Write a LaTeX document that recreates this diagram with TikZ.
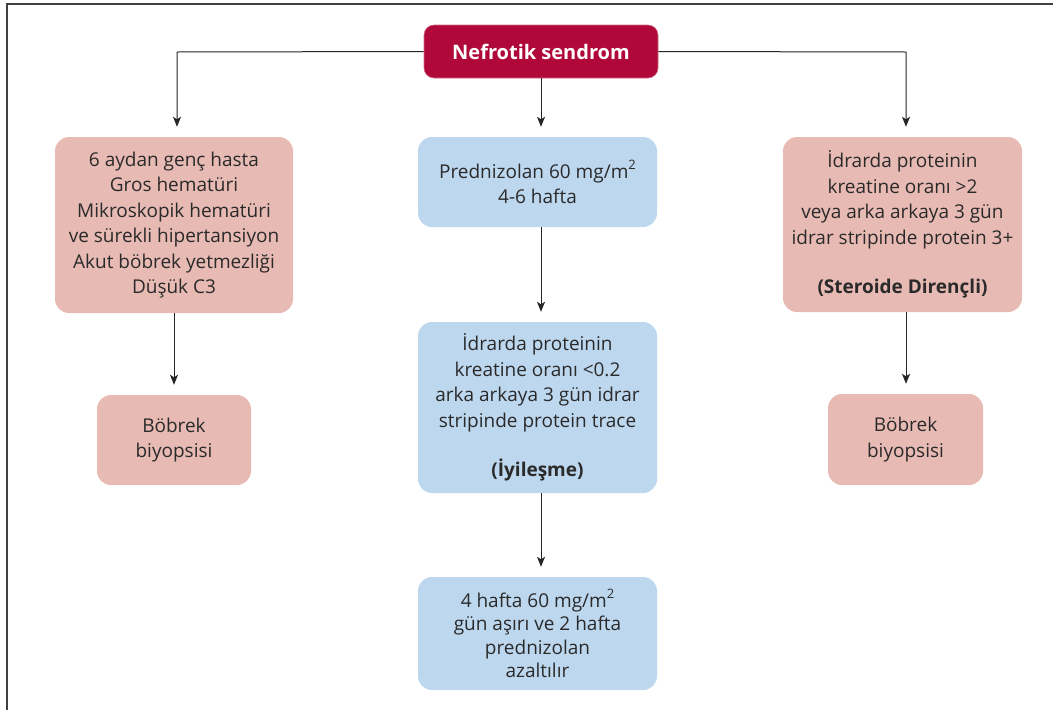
\documentclass[tikz,border=0pt]{standalone}
\usepackage{fontspec}
\setmainfont{Open Sans}
\usetikzlibrary{arrows.meta}
\definecolor{topred}{HTML}{B1083A}
\definecolor{pinkfill}{HTML}{E8BAB4}
\definecolor{bluefill}{HTML}{BDD7EF}
\definecolor{txt}{HTML}{2A2A2A}
\newcommand{\supsq}{\raisebox{0.45em}{\fontsize{13}{13}\selectfont 2}}
\tikzset{
  box/.style={rounded corners=14pt, align=center, inner sep=0pt, text=txt,
    font=\fontsize{19}{25.5}\selectfont},
  pinkbox/.style={box, fill=pinkfill},
  bluebox/.style={box, fill=bluefill},
  conn/.style={line width=1pt, draw=black!85, -{Stealth[length=10pt,width=8pt,inset=2.5pt]}, shorten >=10pt},
  frame/.style={line width=1.4pt, draw=black!75}
}
\begin{document}
\begin{tikzpicture}[x=1pt,y=-1pt]
\useasboundingbox (0,0) rectangle (1053,710);
\draw[frame] (7,710) -- (7,4) -- (1053,4);

\node[rounded corners=10pt, fill=topred, draw=topred!60!white, line width=0.6pt,
  minimum width=234pt, minimum height=53pt, text=white,
  font=\fontsize{20}{24}\selectfont\bfseries] (top) at (541,51.5) {Nefrotik sendrom};

\node[pinkbox, minimum width=238pt, minimum height=176pt] (L1) at (174,225)
  {6 aydan genç hasta\\Gros hematüri\\Mikroskopik hematüri\\ve sürekli hipertansiyon\\Akut böbrek yetmezliği\\Düşük C3};
\node[pinkbox, minimum width=154pt, minimum height=90pt] (L2) at (174,440)
  {Böbrek\\biyopsisi};

\node[bluebox, minimum width=239pt, minimum height=90pt] (C1) at (537.5,182)
  {Prednizolan 60 mg/m\supsq\\4-6 hafta};
\node[bluebox, minimum width=239pt, minimum height=171pt] (C2) at (537.5,407.5)
  {İdrarda proteinin\\kreatine oranı <0.2\\arka arkaya 3 gün idrar\\stripinde protein trace\\[24pt]{\bfseries (İyileşme)}};
\node[bluebox, minimum width=239pt, minimum height=113pt, font=\fontsize{19}{23.5}\selectfont] (C3) at (537.5,633.5)
  {4 hafta 60 mg/m\supsq\\gün aşırı ve 2 hafta\\prednizolan\\azaltılır};

\node[pinkbox, minimum width=239pt, minimum height=175pt] (R1) at (902.5,224.5)
  {İdrarda proteinin\\kreatine oranı >2\\veya arka arkaya 3 gün\\idrar stripinde protein 3+\\[24pt]{\bfseries (Steroide Dirençli)}};
\node[pinkbox, minimum width=155pt, minimum height=91pt] (R2) at (905.5,439.5)
  {Böbrek\\biyopsisi};

\coordinate (lturn) at (177,52);
\coordinate (rturn) at (906,52);
\draw[conn] (top.west) -- (lturn) -- (lturn |- L1.north);
\draw[conn] (top.east) -- (rturn) -- (rturn |- R1.north);
\draw[conn] (top.south) -- (top.south |- C1.north);
\draw[conn] (top.south |- C1.south) -- (top.south |- C2.north);
\draw[conn] (top.south |- C2.south) -- (top.south |- C3.north);
\draw[conn] (L1.south) -- (L2.north);
\draw[conn] (rturn |- R1.south) -- (rturn |- R2.north);
\end{tikzpicture}
\end{document}
